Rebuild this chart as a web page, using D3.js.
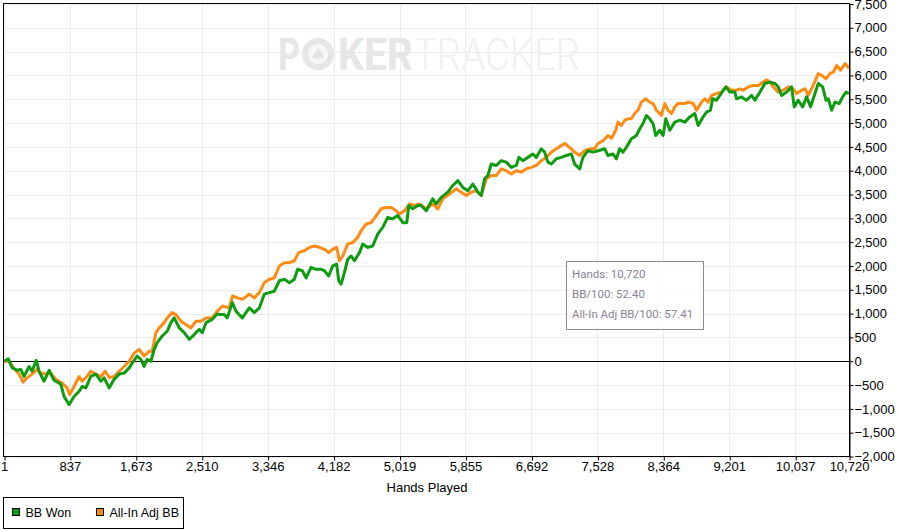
<!DOCTYPE html>
<html>
<head>
<meta charset="utf-8">
<script src="https://cdn.jsdelivr.net/npm/d3@7"></script>
<style>
  body { margin: 0; background: #fff; }
  svg { display: block; font-family: "Liberation Sans", Arial, sans-serif; }
</style>
</head>
<body>
<div id="chart"></div>
<script>
// Chart size
const width = 900;
const height = 532;
const plot = { left: 4, right: 849, top: 4, bottom: 456.5 };

// Data: hands played vs cumulative big blinds
const handsWon = [1, 56, 106, 170, 213, 255, 319, 357, 411, 446, 509, 573, 636, 721, 763, 827, 890, 954, 992, 1039,
  1102, 1166, 1229, 1271, 1335, 1398, 1462, 1525, 1589, 1627, 1690, 1737, 1779, 1817, 1864, 1906, 1944, 2008, 2071, 2118,
  2160, 2224, 2287, 2351, 2414, 2478, 2516, 2563, 2643, 2706, 2732, 2795, 2833, 2897, 2944, 3024, 3113, 3176, 3240, 3303,
  3367, 3430, 3494, 3557, 3621, 3684, 3726, 3786, 3833, 3896, 3960, 4023, 4065, 4120, 4170, 4221, 4247, 4277, 4319, 4361,
  4404, 4446, 4510, 4552, 4615, 4678, 4742, 4805, 4869, 4932, 4996, 5060, 5110, 5136, 5186, 5250, 5293, 5357, 5440, 5483,
  5547, 5631, 5694, 5758, 5821, 5885, 5948, 6012, 6055, 6097, 6139, 6182, 6245, 6309, 6373, 6436, 6500, 6533, 6583, 6647,
  6710, 6753, 6817, 6859, 6901, 6944, 7007, 7071, 7134, 7198, 7240, 7304, 7345, 7409, 7472, 7536, 7621, 7663, 7726, 7770,
  7811, 7853, 7896, 7960, 8023, 8066, 8107, 8150, 8192, 8234, 8269, 8320, 8361, 8396, 8447, 8510, 8574, 8637, 8701, 8764,
  8806, 8869, 8913, 8963, 8989, 9040, 9082, 9124, 9158, 9209, 9272, 9294, 9357, 9421, 9484, 9526, 9590, 9653, 9717, 9780,
  9822, 9865, 9929, 9992, 10025, 10076, 10132, 10182, 10233, 10288, 10330, 10386, 10428, 10457, 10500, 10542, 10597, 10640, 10682, 10720];
const bbWon = [0, 50, -140, -190, -170, -320, -110, -210, 20, -210, -420, -190, -400, -480, -740, -910, -740, -630, -530, -560,
  -320, -270, -420, -350, -560, -380, -270, -250, -140, -40, 110, 40, -110, 40, 0, 250, 390, 530, 630, 810,
  910, 700, 600, 460, 560, 670, 600, 810, 880, 990, 980, 980, 910, 1230, 1050, 910, 1120, 1020, 1120, 1410,
  1440, 1470, 1690, 1720, 1650, 1720, 1930, 1900, 1750, 1970, 1930, 1930, 1900, 1790, 2000, 2040, 1690, 1620, 1860, 2140,
  2210, 2110, 2280, 2460, 2390, 2420, 2670, 2810, 3020, 2990, 3060, 2910, 2910, 3270, 3200, 3270, 3270, 3160, 3410, 3300,
  3440, 3550, 3690, 3790, 3650, 3580, 3720, 3550, 3480, 3830, 3900, 4140, 4110, 4210, 4180, 4070, 4110, 4280, 4210, 4280,
  4350, 4280, 4460, 4390, 4180, 4140, 4250, 4280, 4320, 4350, 4140, 4040, 4280, 4420, 4390, 4420, 4460, 4320, 4350, 4250,
  4460, 4390, 4490, 4670, 4740, 4880, 4990, 5160, 5090, 4990, 4740, 4850, 4740, 5090, 4850, 5020, 5060, 5020, 5130, 5200,
  4950, 5130, 5230, 5270, 5510, 5480, 5580, 5690, 5760, 5650, 5650, 5510, 5550, 5480, 5580, 5480, 5650, 5830, 5860, 5830,
  5760, 5580, 5650, 5760, 5340, 5480, 5340, 5550, 5340, 5620, 5830, 5760, 5480, 5510, 5270, 5440, 5410, 5550, 5650, 5620];

const handsAdj = [1, 65, 128, 192, 242, 293, 357, 420, 467, 531, 594, 658, 738, 801, 835, 890, 954, 992, 1055, 1102,
  1166, 1229, 1284, 1335, 1398, 1462, 1525, 1589, 1652, 1716, 1779, 1843, 1881, 1928, 1970, 2033, 2071, 2135, 2182, 2245,
  2309, 2372, 2436, 2499, 2563, 2643, 2706, 2773, 2858, 2900, 2964, 3027, 3113, 3176, 3240, 3303, 3367, 3430, 3494, 3557,
  3621, 3684, 3739, 3811, 3875, 3938, 4002, 4065, 4120, 4170, 4221, 4256, 4297, 4361, 4424, 4488, 4531, 4595, 4658, 4722,
  4785, 4849, 4912, 4976, 5018, 5081, 5145, 5208, 5272, 5357, 5440, 5504, 5567, 5652, 5737, 5800, 5864, 5927, 5991, 6055,
  6118, 6182, 6245, 6309, 6373, 6436, 6500, 6563, 6627, 6690, 6753, 6817, 6880, 6944, 7007, 7071, 7113, 7176, 7240, 7304,
  7367, 7431, 7494, 7536, 7600, 7663, 7706, 7761, 7790, 7833, 7875, 7917, 7960, 8001, 8043, 8086, 8141, 8192, 8234, 8277,
  8341, 8383, 8425, 8468, 8510, 8552, 8637, 8679, 8743, 8786, 8849, 8891, 8933, 8976, 9040, 9103, 9166, 9230, 9294, 9336,
  9378, 9442, 9505, 9569, 9632, 9675, 9717, 9759, 9822, 9886, 9949, 10012, 10055, 10119, 10161, 10203, 10266, 10330, 10373, 10428,
  10478, 10520, 10563, 10614, 10669, 10720];
const bbAdj = [0, 0, -150, -270, -440, -350, -270, -170, -250, -270, -250, -380, -460, -560, -700, -530, -320, -420, -320, -210,
  -270, -320, -210, -340, -320, -210, -110, 0, 170, 250, 110, 210, 210, 600, 700, 810, 910, 1020, 980, 840,
  770, 700, 840, 840, 910, 910, 1050, 1160, 1120, 1370, 1330, 1300, 1410, 1330, 1440, 1650, 1720, 1750, 2000, 2070,
  2070, 2110, 2280, 2320, 2390, 2420, 2390, 2350, 2280, 2350, 2390, 2110, 2210, 2460, 2490, 2600, 2740, 2880, 2910, 3050,
  3200, 3230, 3230, 3160, 3090, 3160, 3300, 3270, 3300, 3200, 3300, 3200, 3410, 3510, 3620, 3550, 3480, 3550, 3580, 3480,
  3830, 3900, 3900, 4040, 4000, 3930, 4000, 3970, 4040, 4070, 4110, 4210, 4280, 4390, 4460, 4530, 4570, 4490, 4390, 4320,
  4420, 4460, 4460, 4570, 4630, 4740, 4680, 4850, 5020, 4950, 5060, 5090, 5090, 5200, 5270, 5440, 5510, 5440, 5410, 5270,
  5160, 5410, 5270, 5200, 5340, 5410, 5410, 5440, 5410, 5270, 5440, 5510, 5440, 5580, 5620, 5650, 5760, 5690, 5690, 5720,
  5690, 5760, 5790, 5790, 5860, 5910, 5860, 5760, 5650, 5690, 5760, 5720, 5620, 5690, 5720, 5580, 5790, 6040, 6000, 5930,
  6040, 6070, 6210, 6110, 6250, 6150];

// Axis ticks
const xTicks = [1, 837, 1673, 2510, 3346, 4182, 5019, 5855, 6692, 7528, 8364, 9201, 10037, 10720];
const yTicks = [-2000, -1500, -1000, -500, 0, 500, 1000, 1500, 2000, 2500, 3000, 3500, 4000, 4500, 5000, 5500, 6000, 6500, 7000, 7500];

const seriesNames = ["BB Won", "All-In Adj BB"];
const colors = ["#0f9b0f", "#ff8a14"];
const tooltipLines = ["Hands: 10,720", "BB/100: 52.40", "All-In Adj BB/100: 57.41"];

const svg = d3.select("#chart")
  .append("svg")
  .attr("width", width)
  .attr("height", height);

let xScale = d3.scaleLinear()
  .domain([1, 10720])
  .range([plot.left, plot.right]);

let yScale = d3.scaleLinear()
  .domain([-2000, 7500])
  .range([plot.bottom, plot.top]);

// grid lines
svg.append("g")
  .selectAll("line")
  .data(xTicks)
  .enter()
  .append("line")
  .attr("x1", d => Math.round(xScale(d)) + 0.5)
  .attr("x2", d => Math.round(xScale(d)) + 0.5)
  .attr("y1", plot.top)
  .attr("y2", plot.bottom)
  .attr("stroke", "#ececec");

svg.append("g")
  .selectAll("line")
  .data(yTicks)
  .enter()
  .append("line")
  .attr("x1", plot.left)
  .attr("x2", plot.right)
  .attr("y1", d => Math.round(yScale(d)) + 0.5)
  .attr("y2", d => Math.round(yScale(d)) + 0.5)
  .attr("stroke", "#ececec");

// watermark
const wm = svg.append("g").attr("font-family", "Roboto, sans-serif").attr("font-size", 45);
wm.append("text").attr("x", 278).attr("y", 70).attr("font-weight", "bold").attr("fill", "#e6e6e6")
  .attr("textLength", 22).attr("lengthAdjust", "spacingAndGlyphs").text("P");
wm.append("circle").attr("cx", 318).attr("cy", 54).attr("r", 16).attr("fill", "#e6e6e6");
wm.append("circle").attr("cx", 318).attr("cy", 54).attr("r", 10).attr("fill", "#f7f7f7");
wm.append("text").attr("x", 318).attr("y", 61).attr("text-anchor", "middle").attr("font-size", 18)
  .attr("font-family", "DejaVu Sans").attr("fill", "#e3e3e3").text("♠");
wm.append("text").attr("x", 338).attr("y", 70).attr("font-weight", "bold").attr("fill", "#e6e6e6")
  .attr("textLength", 75).attr("lengthAdjust", "spacingAndGlyphs").text("KER");
wm.append("text").attr("x", 414).attr("y", 70).attr("font-weight", 300).attr("fill", "#f0f0f0")
  .attr("textLength", 166).attr("lengthAdjust", "spacingAndGlyphs").text("TRACKER");

// zero line
svg.append("line")
  .attr("x1", plot.left)
  .attr("x2", plot.right)
  .attr("y1", Math.round(yScale(0)) + 0.5)
  .attr("y2", Math.round(yScale(0)) + 0.5)
  .attr("stroke", "#000");

// lines
const line = d3.line()
  .x(d => xScale(d[0]))
  .y(d => yScale(d[1]));

const adjPoints = handsAdj.map((h, i) => [h, bbAdj[i]]);
const wonPoints = handsWon.map((h, i) => [h, bbWon[i]]);

svg.append("path")
  .datum(adjPoints)
  .attr("d", line)
  .attr("fill", "none")
  .attr("stroke", colors[1])
  .attr("stroke-width", 3)
  .attr("stroke-linejoin", "round");

svg.append("path")
  .datum(wonPoints)
  .attr("d", line)
  .attr("fill", "none")
  .attr("stroke", colors[0])
  .attr("stroke-width", 3)
  .attr("stroke-linejoin", "round");

// frame
svg.append("rect")
  .attr("x", plot.left - 0.5)
  .attr("y", plot.top - 0.5)
  .attr("width", plot.right - plot.left + 1)
  .attr("height", plot.bottom - plot.top + 0.5)
  .attr("fill", "none")
  .attr("stroke", "#000");

// right axis
svg.append("g")
  .attr("transform", `translate(${plot.right + 0.5}, 0)`)
  .call(d3.axisRight(yScale)
    .tickValues(yTicks)
    .tickFormat(d3.format(","))
    .tickSize(4)
    .tickSizeOuter(0)
    .tickPadding(1))
  .attr("font-family", "Liberation Sans, Arial, sans-serif")
  .attr("font-size", 13)
  .call(g => g.selectAll("text").attr("fill", "#000"));

// bottom axis
svg.append("g")
  .attr("transform", `translate(0, ${plot.bottom})`)
  .call(d3.axisBottom(xScale)
    .tickValues(xTicks)
    .tickFormat(d3.format(","))
    .tickSize(4)
    .tickSizeOuter(0)
    .tickPadding(1))
  .attr("font-family", "Liberation Sans, Arial, sans-serif")
  .attr("font-size", 13)
  .call(g => g.select(".domain").remove())
  .call(g => g.selectAll("line").attr("transform", "translate(0.5,0)"));

svg.append("text")
  .attr("x", 427)
  .attr("y", 492)
  .attr("text-anchor", "middle")
  .attr("font-size", 13)
  .text("Hands Played");

// legend
svg.append("rect")
  .attr("x", 3.5)
  .attr("y", 497.5)
  .attr("width", 180)
  .attr("height", 31)
  .attr("fill", "#fff")
  .attr("stroke", "#000");

const legendX = [12.5, 96.5];
seriesNames.forEach((name, i) => {
  svg.append("rect")
    .attr("x", legendX[i])
    .attr("y", 508.5)
    .attr("width", 7)
    .attr("height", 7)
    .attr("fill", colors[i])
    .attr("stroke", "#000");
  svg.append("text")
    .attr("x", legendX[i] + 13)
    .attr("y", 517)
    .attr("font-size", 12.5)
    .text(name);
});

// info box
svg.append("rect")
  .attr("x", 566.5)
  .attr("y", 261.5)
  .attr("width", 137)
  .attr("height", 68)
  .attr("fill", "#fff")
  .attr("fill-opacity", 0.85)
  .attr("stroke", "#8c8c8c");

svg.append("g")
  .selectAll("text")
  .data(tooltipLines)
  .enter()
  .append("text")
  .attr("x", 572)
  .attr("y", (d, i) => 278 + i * 20)
  .attr("font-family", "Roboto, sans-serif")
  .attr("font-size", 11.5)
  .attr("fill", "#8a8295")
  .text(d => d);
</script>
</body>
</html>
